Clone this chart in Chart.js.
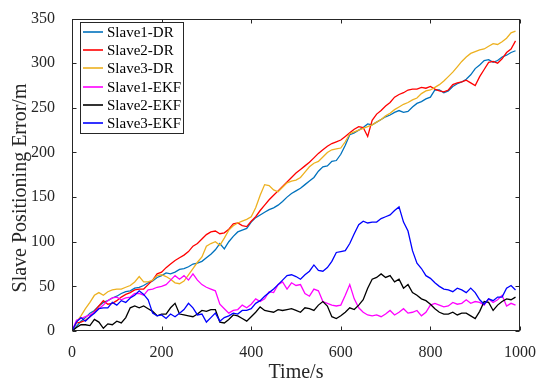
<!DOCTYPE html>
<html>
<head>
<meta charset="utf-8">
<script src="https://cdn.jsdelivr.net/npm/chart.js@4.4.0/dist/chart.umd.min.js"></script>
<style>
html, body { margin: 0; padding: 0; background: #fff; }
#wrap { width: 550px; height: 386px; }
</style>
</head>
<body>
<div id="wrap"><canvas id="c" width="550" height="386"></canvas></div>
<script>
// time axis (s)
const time = [0,10,20,30,40,50,60,70,80,90,100,110,120,130,140,150,160,170,180,190,
  200,210,220,230,240,250,260,270,280,290,300,310,320,330,340,350,360,370,380,390,
  400,410,420,430,440,450,460,470,480,490,500,510,520,530,540,550,560,570,580,590,
  600,610,620,630,640,650,660,670,680,690,700,710,720,730,740,750,760,770,780,790,
  800,810,820,830,840,850,860,870,880,890,900,910,920,930,940,950,960,970,980,990];

const slave1DR = [0,5,11,15,20,23,28,32,34,37,39,42,44,45,48,49,51,54,56,60,
  62,65,64,66,69,70,72,75,76,78,82,86,91,98,92,100,106,111,113,115,
  122,127,130,133,136,138,141,145,150,154,157,160,164,168,172,179,184,185,190,191,
  198,208,220,222,225,228,232,231,234,237,240,242,245,247,245,246,251,255,257,260,
  262,270,270,267,269,274,277,279,282,287,294,298,303,304,301,303,307,309,312,314];

const slave2DR = [0,9,10,12,16,22,28,34,30,31,34,38,41,43,46,47,47,52,57,64,
  66,71,75,79,82,85,89,95,98,103,108,111,112,109,110,114,120,121,118,117,
  123,128,135,141,147,152,157,162,167,172,177,181,185,189,194,199,203,207,210,212,
  214,218,222,226,229,228,218,236,243,247,252,256,262,265,267,270,271,271,273,272,
  274,271,269,268,270,276,278,279,281,278,275,285,293,301,302,300,305,312,316,325];

const slave3DR = [0,10,17,25,32,40,43,40,44,46,47,47,49,51,55,61,55,55,57,62,
  63,61,58,54,53,56,63,70,77,83,95,98,100,96,104,113,118,121,123,125,
  128,138,152,164,163,158,156,161,166,168,169,172,178,184,188,190,195,200,203,204,
  205,212,221,223,225,227,229,231,234,237,241,244,248,251,254,256,259,261,266,269,
  270,273,276,280,285,290,296,302,307,311,313,315,316,319,322,321,324,328,334,336];

const slave1EKF = [0,12,14,16,18,21,25,29,34,37,38,35,37,38,42,42,40,46,47,49,
  50,52,57,62,58,62,57,64,57,52,49,47,45,30,25,20,23,24,29,26,
  30,36,33,36,44,43,52,55,47,54,51,52,42,39,47,45,33,31,29,28,
  29,40,52,36,26,21,18,17,18,16,19,23,18,21,25,20,21,23,17,21,
  29,31,29,27,28,32,30,31,35,31,33,32,29,36,32,35,40,28,31,29];

const slave2EKF = [0,4,7,7,6,13,10,3,8,7,11,9,15,26,28,26,28,25,22,17,
  19,19,26,31,19,18,17,16,19,23,22,24,24,10,9,13,18,17,14,11,
  16,21,27,23,22,21,24,23,24,25,23,21,26,25,23,29,33,28,16,14,
  17,21,26,24,29,35,48,58,60,64,60,62,55,58,48,52,43,40,36,34,
  30,25,21,19,19,21,18,20,20,17,14,22,33,32,23,29,33,36,35,38];

const slave3EKF = [0,10,15,11,16,20,25,26,26,32,29,34,32,37,40,45,41,35,20,17,
  18,14,19,16,20,24,31,26,18,19,10,15,20,11,15,17,20,19,23,23,
  25,31,34,39,43,47,52,57,62,63,61,58,63,67,74,68,67,71,78,88,
  89,90,98,109,119,123,121,122,122,126,128,130,135,139,122,112,90,76,70,62,
  59,54,50,47,46,44,48,46,43,48,43,35,30,36,34,38,38,48,51,46];

const seriesNames = ['Slave1-DR','Slave2-DR','Slave3-DR','Slave1-EKF','Slave2-EKF','Slave3-EKF'];
const seriesData = [slave1DR, slave2DR, slave3DR, slave1EKF, slave2EKF, slave3EKF];
const seriesColors = ['#0072BD','#FF0000','#EDB120','#FF00FF','#000000','#0000FF'];

const xTicks = [0,200,400,600,800,1000];
const yTicks = [0,50,100,150,200,250,300,350];
const yTitle = 'Slave Positioning Error/m';

const axisColor = '#262626';
const serif = "'Liberation Serif', 'Times New Roman', serif";

// box + inward ticks like matlab, y label, legend in the corner
const matlabAxes = {
  id: 'matlabAxes',
  afterDatasetsDraw(chart) {
    const ctx = chart.ctx;
    const a = chart.chartArea;
    const xs = chart.scales.x, ys = chart.scales.y;
    const L = Math.round(a.left) + 0.5, R = Math.round(a.right) - 0.5;
    const T = Math.round(a.top) + 0.5, B = Math.round(a.bottom) - 0.5;
    ctx.save();
    ctx.strokeStyle = axisColor;
    ctx.lineWidth = 1;
    ctx.strokeRect(L, T, R - L, B - T);
    ctx.beginPath();
    xTicks.forEach(v => {
      const px = Math.round(xs.getPixelForValue(v)) + 0.5;
      ctx.moveTo(px, B); ctx.lineTo(px, B - 4);
      ctx.moveTo(px, T); ctx.lineTo(px, T + 4);
    });
    yTicks.forEach(v => {
      const py = Math.round(ys.getPixelForValue(v)) + 0.5;
      ctx.moveTo(L, py); ctx.lineTo(L + 4, py);
      ctx.moveTo(R, py); ctx.lineTo(R - 4, py);
    });
    ctx.stroke();

    // y label (sits a bit below the axis centre in the original)
    ctx.save();
    ctx.translate(21, 188);
    ctx.rotate(-Math.PI / 2);
    ctx.font = '20px ' + serif;
    ctx.fillStyle = axisColor;
    ctx.textAlign = 'center';
    ctx.textBaseline = 'middle';
    ctx.fillText(yTitle, 0, 0);
    ctx.restore();

    // legend
    const lx = 80.5, ly = 22.5, lw = 103, lh = 111;
    ctx.fillStyle = '#fff';
    ctx.fillRect(lx, ly, lw, lh);
    ctx.strokeRect(lx, ly, lw, lh);
    ctx.font = '15px ' + serif;
    ctx.textBaseline = 'middle';
    ctx.textAlign = 'left';
    chart.data.datasets.forEach((ds, i) => {
      const y = Math.round(32 + i * 18.2);
      ctx.strokeStyle = ds.borderColor;
      ctx.lineWidth = 1.6;
      ctx.beginPath();
      ctx.moveTo(83, y); ctx.lineTo(103, y);
      ctx.stroke();
      ctx.fillStyle = '#000';
      ctx.fillText(ds.label, 107, y + 1);
    });
    ctx.restore();
  }
};

new Chart(document.getElementById('c'), {
  type: 'line',
  data: {
    datasets: seriesNames.map((name, i) => ({
      label: name,
      data: time.map((t, j) => ({ x: t, y: seriesData[i][j] })),
      borderColor: seriesColors[i],
      backgroundColor: seriesColors[i],
      borderWidth: 1.3,
      pointRadius: 0,
      tension: 0,
      fill: false,
      order: seriesNames.length - i
    }))
  },
  options: {
    responsive: false,
    animation: false,
    devicePixelRatio: 1,
    layout: { padding: { top: 13, right: 30, left: 0, bottom: 0 } },
    plugins: {
      legend: { display: false },
      tooltip: { enabled: false }
    },
    scales: {
      x: {
        type: 'linear',
        min: 0, max: 1000,
        afterFit: s => { s.height = 55; },
        afterBuildTicks: s => { s.ticks = xTicks.map(v => ({ value: v })); },
        grid: { display: false },
        border: { display: false },
        ticks: { color: axisColor, font: { family: serif, size: 16 }, padding: 4, maxRotation: 0,
                 callback: v => String(v) },
        title: { display: true, text: 'Time/s', color: axisColor, font: { family: serif, size: 20 }, padding: { top: 0, bottom: 1 } }
      },
      y: {
        min: 0, max: 350,
        afterFit: s => { s.width = 72; },
        afterBuildTicks: s => { s.ticks = yTicks.map(v => ({ value: v })); },
        grid: { display: false },
        border: { display: false },
        ticks: { color: axisColor, font: { family: serif, size: 16 }, padding: 9, callback: v => String(v) },
        title: { display: false }
      }
    }
  },
  plugins: [matlabAxes]
});
</script>
</body>
</html>
